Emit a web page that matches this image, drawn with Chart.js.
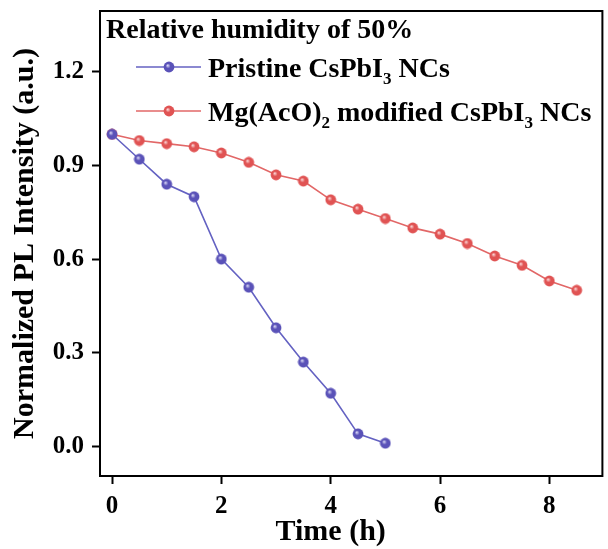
<!DOCTYPE html>
<html>
<head>
<meta charset="utf-8">
<script src="https://cdn.jsdelivr.net/npm/chart.js@4/dist/chart.umd.min.js"></script>
<style>
  body { margin: 0; background: #fff; }
  #wrap { width: 608px; height: 549px; position: relative; }
</style>
</head>
<body>
<div id="wrap"><canvas id="plChart"></canvas></div>
<script>
const times = [0, 0.5, 1, 1.5, 2, 2.5, 3, 3.5, 4, 4.5, 5, 5.5, 6, 6.5, 7, 7.5, 8, 8.5];
const pristine = [1.0, 0.92, 0.84, 0.80, 0.60, 0.51, 0.38, 0.27, 0.17, 0.04, 0.01];
const modified = [1.0, 0.98, 0.97, 0.96, 0.94, 0.91, 0.87, 0.85, 0.79, 0.76, 0.73, 0.70, 0.68, 0.65, 0.61, 0.58, 0.53, 0.50];
const xTicks = [0, 2, 4, 6, 8];
const yTicks = [0.0, 0.3, 0.6, 0.9, 1.2];

const legendTitle = "Relative humidity of 50%";
const labelPristine = [{ t: "Pristine CsPbI" }, { t: "3", sub: true }, { t: " NCs" }];
const labelModified = [{ t: "Mg(AcO)" }, { t: "2", sub: true }, { t: " modified CsPbI" }, { t: "3", sub: true }, { t: " NCs" }];

const SERIF = "'Liberation Serif', 'Times New Roman', serif";
const BLUE = "#6462c2", BLUE_DOT = "#5a52b8";
const RED = "#e26767", RED_DOT = "#e05353";

// little shaded ball used as marker
function ball(color, light) {
  const c = document.createElement("canvas");
  c.width = 12; c.height = 12;
  const g = c.getContext("2d");
  const grad = g.createRadialGradient(4.6, 4.4, 0.3, 6, 6, 5.6);
  grad.addColorStop(0, light);
  grad.addColorStop(0.4, color);
  grad.addColorStop(1, color);
  g.fillStyle = grad;
  g.beginPath();
  g.arc(6, 6, 5.4, 0, Math.PI * 2);
  g.fill();
  return c;
}
const blueBall = ball(BLUE_DOT, "#d8d6f6");
const redBall = ball(RED_DOT, "#fbd6d6");

function drawRich(ctx, parts, x, y, size) {
  let cx = x;
  parts.forEach(p => {
    if (p.sub) {
      ctx.font = "bold " + Math.round(size * 0.62) + "px " + SERIF;
      ctx.fillText(p.t, cx, y + size * 0.24);
    } else {
      ctx.font = "bold " + size + "px " + SERIF;
      ctx.fillText(p.t, cx, y);
    }
    cx += ctx.measureText(p.t).width;
  });
}

const framePlugin = {
  id: "frame",
  afterDraw(chart) {
    const { ctx, chartArea: a, scales } = chart;
    ctx.save();
    ctx.strokeStyle = "#000";
    ctx.lineWidth = 2;
    ctx.strokeRect(a.left, a.top, a.right - a.left, a.bottom - a.top);

    // x axis title
    ctx.fillStyle = "#000";
    ctx.font = "bold 30px " + SERIF;
    ctx.textAlign = "center";
    ctx.textBaseline = "alphabetic";
    ctx.fillText("Time (h)", scales.x.getPixelForValue(4), 540);

    // legend
    ctx.textAlign = "left";
    ctx.font = "bold 28px " + SERIF;
    ctx.fillText(legendTitle, a.left + 6, a.top + 27);
    const rows = [[BLUE, blueBall, labelPristine, 56], [RED, redBall, labelModified, 100]];
    rows.forEach(([col, img, parts, dy]) => {
      const ly = a.top + dy;
      ctx.strokeStyle = col;
      ctx.lineWidth = 1.6;
      ctx.beginPath();
      ctx.moveTo(a.left + 36, ly);
      ctx.lineTo(a.left + 101, ly);
      ctx.stroke();
      ctx.drawImage(img, a.left + 69 - 6, ly - 6);
      ctx.fillStyle = "#000";
      drawRich(ctx, parts, a.left + 108, ly + 10, 28);
    });
    ctx.restore();
  }
};

const tickFont = { family: SERIF, size: 25, weight: "bold" };

new Chart(document.getElementById("plChart"), {
  type: "line",
  data: {
    datasets: [
      {
        label: "Pristine CsPbI3 NCs",
        data: pristine.map((v, i) => ({ x: times[i], y: v })),
        borderColor: BLUE,
        borderWidth: 1.6,
        pointStyle: blueBall,
        tension: 0
      },
      {
        label: "Mg(AcO)2 modified CsPbI3 NCs",
        data: modified.map((v, i) => ({ x: times[i], y: v })),
        borderColor: RED,
        borderWidth: 1.6,
        pointStyle: redBall,
        tension: 0
      }
    ]
  },
  options: {
    responsive: true,
    maintainAspectRatio: false,
    animation: false,
    events: [],
    layout: { padding: { top: 11, right: -3, left: 0, bottom: 0 } },
    plugins: { legend: { display: false }, tooltip: { enabled: false } },
    scales: {
      x: {
        type: "linear",
        min: -0.22,
        max: 8.97,
        afterBuildTicks: s => { s.ticks = xTicks.map(v => ({ value: v })); },
        afterFit: s => { s.height = 73; s.paddingLeft = 0; s.paddingRight = 0; },
        grid: { drawOnChartArea: false, tickLength: 8, tickWidth: 2, tickColor: "#000" },
        border: { display: true, color: "#000", width: 2 },
        ticks: { color: "#000", font: tickFont, padding: 8, maxRotation: 0 }
      },
      y: {
        min: -0.095,
        max: 1.395,
        afterBuildTicks: s => { s.ticks = yTicks.map(v => ({ value: v })); },
        afterFit: s => { s.width = 100; s.paddingTop = 0; s.paddingBottom = 0; },
        grid: { drawOnChartArea: false, tickLength: 8, tickWidth: 2, tickColor: "#000" },
        border: { display: true, color: "#000", width: 2 },
        ticks: { color: "#000", font: tickFont, padding: 8, callback: v => v.toFixed(1) },
        title: {
          display: true,
          text: "Normalized PL Intensity (a.u.)",
          color: "#000",
          font: { family: SERIF, size: 30, weight: "bold" },
          padding: { top: 7, bottom: 0 }
        }
      }
    }
  },
  plugins: [framePlugin]
});
</script>
</body>
</html>
